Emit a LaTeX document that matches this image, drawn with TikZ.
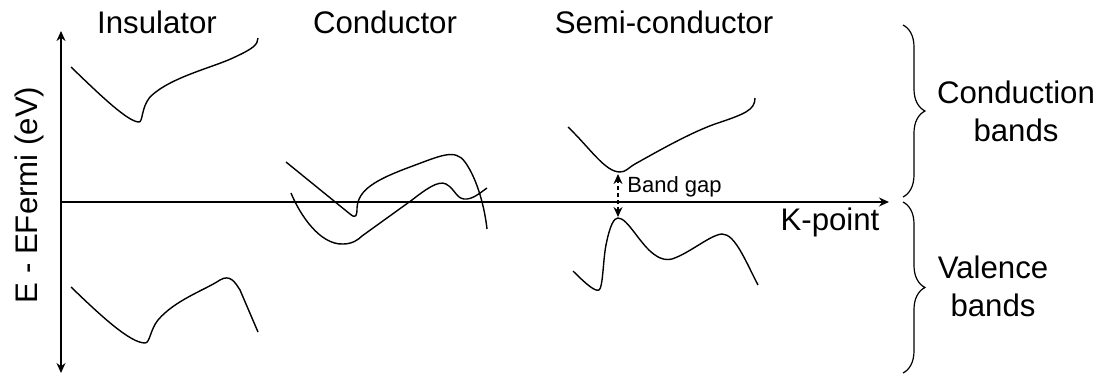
\documentclass[tikz,border=0pt]{standalone}
\usepackage{fontspec}
\setmainfont{Liberation Sans}
\usetikzlibrary{arrows.meta,decorations.pathreplacing}
\tikzset{
  >={Stealth[length=5pt,width=4.5pt]},
  band/.style={line width=0.7pt,line join=round},
  axis/.style={line width=0.7pt},
  big/.style={font=\fontsize{15.6}{19}\selectfont,inner sep=0pt},
  small/.style={font=\fontsize{11}{13}\selectfont,inner sep=0pt},
  bandbrace/.style={decorate,decoration={brace,amplitude=11pt},line width=0.6pt},
}
\begin{document}
\begin{tikzpicture}[x=0.5pt,y=-0.5pt]
  \useasboundingbox (0,0) rectangle (1100,375);
  % axes
  \coordinate (origin) at (61,202);
  \coordinate (etop)   at (61,31);
  \coordinate (ebot)   at (61,373);
  \coordinate (kend)   at (889,202);
  \draw[axis,<->] (ebot) -- (etop);
  \draw[axis,->]  (origin) -- (kend);
  \node[big,rotate=90] (elabel) at (29,195) {E - EFermi (eV)};
  \node[big] (klabel) at (830,222) {K-point};
  % titles
  \node[big] (ins)  at (157,22) {Insulator};
  \node[big] (con)  at (385,22) {Conductor};
  \node[big] (semi) at (664,22) {Semi-conductor};
  % insulator
  \draw[band] (71,67) .. controls (100,95) and (128,122) .. (139,122)
    .. controls (143,122) and (141,108) .. (150,97)
    .. controls (170,77) and (215,67) .. (235,57)
    .. controls (252,49) and (258,45) .. (258,38);
  \draw[band] (71,287) .. controls (100,315) and (130,343) .. (145,343)
    .. controls (150,343) and (150,330) .. (158,320)
    .. controls (175,300) and (205,290) .. (220,280)
    .. controls (230,274) and (235,282) .. (240,290) -- (258,332);
  % conductor
  \draw[band] (286,162) -- (350,214)
    .. controls (356,219) and (357,216) .. (357,208)
    .. controls (358,190) and (375,180) .. (410,167)
    .. controls (440,156) and (455,148) .. (465,162)
    .. controls (478,180) and (485,210) .. (487,229);
  \draw[band] (291,193) .. controls (300,215) and (320,245) .. (343,244)
    .. controls (352,244) and (358,240) .. (362,236) -- (412,200)
    .. controls (425,190) and (438,180) .. (446,184)
    .. controls (455,189) and (456,198) .. (464,199)
    .. controls (472,200) and (480,193) .. (487,188);
  % semi-conductor
  \draw[band] (568,127) .. controls (590,148) and (605,172) .. (620,172)
    .. controls (626,172) and (628,168) .. (635,164)
    .. controls (660,150) and (690,133) .. (715,124)
    .. controls (745,114) and (755,110) .. (755,98);
  \draw[band] (573,271) .. controls (585,283) and (595,292) .. (599,290)
    .. controls (603,288) and (603,260) .. (606,245)
    .. controls (610,225) and (614,218) .. (618,218)
    .. controls (628,218) and (640,245) .. (655,255)
    .. controls (662,260) and (667,260) .. (672,259)
    .. controls (690,253) and (710,235) .. (722,234)
    .. controls (735,234) and (745,260) .. (758,285);
  % band gap
  \coordinate (gaptop) at (618,174);
  \coordinate (gapbot) at (618,217);
  \draw[axis,<->,dashed,dash pattern=on 2pt off 1.5pt] (gapbot) -- (gaptop);
  \node[small,anchor=west] (gap) at (627,187) {Band gap};
  % braces
  \coordinate (cbtop) at (903,25);
  \coordinate (cbbot) at (903,197);
  \coordinate (vbtop) at (903,202);
  \coordinate (vbbot) at (903,373);
  \draw[bandbrace] (cbtop) -- (cbbot);
  \draw[bandbrace] (vbtop) -- (vbbot);
  \node[big,align=center] (cblabel) at (1016,111) {Conduction\\bands};
  \node[big,align=center] (vblabel) at (993,286) {Valence\\bands};
\end{tikzpicture}
\end{document}
